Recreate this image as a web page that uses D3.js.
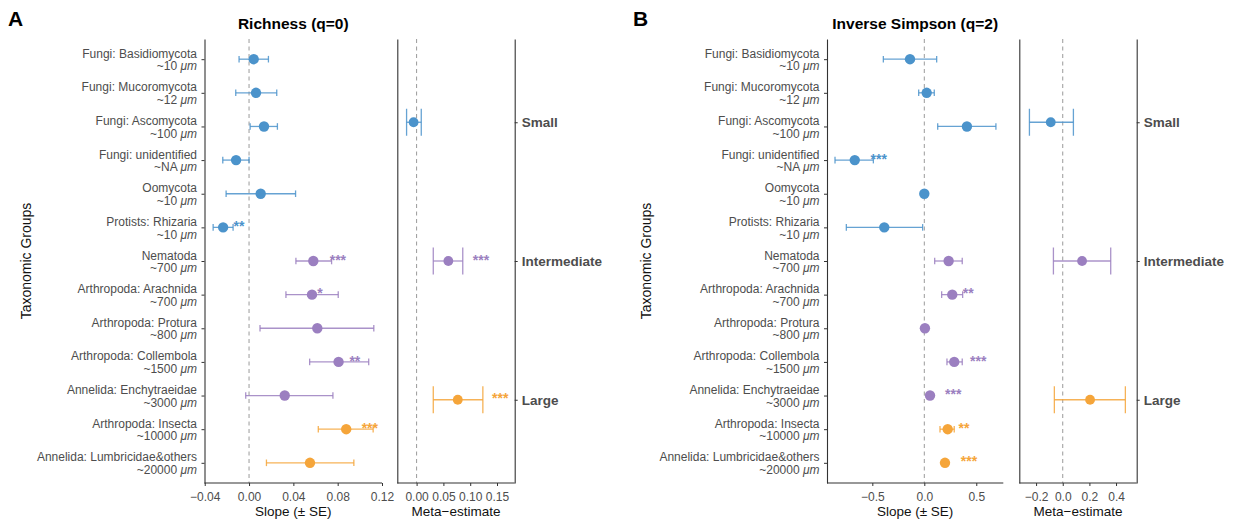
<!DOCTYPE html>
<html>
<head>
<meta charset="utf-8">
<script src="https://cdn.jsdelivr.net/npm/d3@7"></script>
<style>
  body { margin: 0; background: #fff; }
  svg { font-family: 'Liberation Sans', Arial, sans-serif; }
</style>
</head>
<body>
<div id="chart"></div>
<script>
// Data
const groups = [
  'Fungi: Basidiomycota', 'Fungi: Mucoromycota', 'Fungi: Ascomycota', 'Fungi: unidentified',
  'Oomycota', 'Protists: Rhizaria', 'Nematoda', 'Arthropoda: Arachnida', 'Arthropoda: Protura',
  'Arthropoda: Collembola', 'Annelida: Enchytraeidae', 'Arthropoda: Insecta', 'Annelida: Lumbricidae&others'
];
const sizes = ['10', '12', '100', 'NA', '10', '10', '700', '700', '800', '1500', '3000', '10000', '20000'];
const sizeClass = ['Small', 'Small', 'Small', 'Small', 'Small', 'Small',
  'Intermediate', 'Intermediate', 'Intermediate', 'Intermediate', 'Intermediate', 'Large', 'Large'];
const metaCats = ['Small', 'Intermediate', 'Large'];

// Richness (q=0): slope and slope ± SE
const richEst = [0.0042, 0.0063, 0.0135, -0.0117, 0.0105, -0.0234, 0.058, 0.0568, 0.0616, 0.0808, 0.0322, 0.0877, 0.055];
const richLo = [-0.009, -0.012, 0.001, -0.0237, -0.0207, -0.0324, 0.0423, 0.0333, 0.0099, 0.0547, -0.003, 0.0625, 0.0157];
const richHi = [0.0175, 0.025, 0.0256, 0.0, 0.042, -0.0144, 0.0745, 0.0805, 0.1126, 0.108, 0.0757, 0.112, 0.0946];
const richStars = ['', '', '', '', '', '**', '***', '*', '', '**', '', '***', ''];
const richStarX = [0, 0, 0, 0, 0, -0.009, 0.0802, 0.064, 0, 0.0955, 0, 0.109, 0];

const richMetaEst = [-0.0056, 0.0592, 0.0768];
const richMetaLo = [-0.0187, 0.0311, 0.0311];
const richMetaHi = [0.0087, 0.0861, 0.1236];
const richMetaStars = ['', '***', '***'];
const richMetaStarX = [0, 0.12, 0.156];

// Inverse Simpson (q=2)
const simpEst = [-0.1375, 0.023, 0.41, -0.669, 0.0, -0.385, 0.234, 0.269, 0.006, 0.288, 0.055, 0.225, 0.199];
const simpLo = [-0.394, -0.054, 0.129, -0.859, -0.01, -0.75, 0.1, 0.167, 0.0, 0.218, 0.045, 0.151, 0.19];
const simpHi = [0.119, 0.096, 0.689, -0.49, 0.01, -0.016, 0.365, 0.369, 0.012, 0.365, 0.065, 0.288, 0.208];
const simpStars = ['', '', '', '***', '', '', '', '**', '', '***', '***', '**', '***'];
const simpStarX = [0, 0, 0, -0.438, 0, 0, 0, 0.423, 0, 0.519, 0.279, 0.382, 0.43];

const simpMetaEst = [-0.09, 0.145, 0.205];
const simpMetaLo = [-0.25, -0.07, -0.063];
const simpMetaHi = [0.08, 0.36, 0.47];
const simpMetaStars = ['', '', ''];
const simpMetaStarX = [0, 0, 0];

// Tick labels
const richTicks = [-0.04, 0.00, 0.04, 0.08, 0.12];
const richMetaTicks = [0.00, 0.05, 0.10, 0.15];
const simpTicks = [-0.5, 0.0, 0.5];
const simpMetaTicks = [-0.2, 0.0, 0.2, 0.4];

const colors = { Small: '#4b93cb', Intermediate: '#9b7fc0', Large: '#f5a53a' };

// Build rows
const makeRows = (est, lo, hi, stars, starX) => groups.map((g, i) => ({
  group: g, size: sizes[i], cls: sizeClass[i],
  est: est[i], lo: lo[i], hi: hi[i], stars: stars[i], starX: starX[i]
}));
const makeMeta = (est, lo, hi, stars, starX) => metaCats.map((c, i) => ({
  group: c, cls: c, est: est[i], lo: lo[i], hi: hi[i], stars: stars[i], starX: starX[i]
}));

const svg = d3.select('#chart').append('svg')
  .attr('width', 1241).attr('height', 520);

const top_y = 39, bottom_y = 483;

drawPanel({
  letter: 'A', letterX: 8, title: 'Richness (q=0)', yTitleX: 31,
  main: { x0: 204.5, x1: 382, domain: [-0.0402, 0.12], ticks: richTicks, fmt: '.2f', label: 'Slope (± SE)' },
  meta: { x0: 397.3, x1: 514.7, domain: [-0.036, 0.183], ticks: richMetaTicks, fmt: '.2f', label: 'Meta−estimate' },
  rows: makeRows(richEst, richLo, richHi, richStars, richStarX),
  metaRows: makeMeta(richMetaEst, richMetaLo, richMetaHi, richMetaStars, richMetaStarX)
});
drawPanel({
  letter: 'B', letterX: 633, title: 'Inverse Simpson (q=2)', yTitleX: 651,
  main: { x0: 827, x1: 1003.3, domain: [-0.936, 0.76], ticks: simpTicks, fmt: '.1f', label: 'Slope (± SE)' },
  meta: { x0: 1019.3, x1: 1136.7, domain: [-0.326, 0.555], ticks: simpMetaTicks, fmt: '.1f', label: 'Meta−estimate' },
  rows: makeRows(simpEst, simpLo, simpHi, simpStars, simpStarX),
  metaRows: makeMeta(simpMetaEst, simpMetaLo, simpMetaHi, simpMetaStars, simpMetaStarX)
});

function drawPanel(cfg) {
  const g = svg.append('g');

  // panel letter + title
  g.append('text').attr('x', cfg.letterX).attr('y', 26)
    .style('font-size', '21px').style('font-weight', 'bold').text(cfg.letter);
  g.append('text').attr('x', (cfg.main.x0 + cfg.main.x1) / 2).attr('y', 28.5)
    .attr('text-anchor', 'middle')
    .style('font-size', '15.5px').style('font-weight', 'bold').text(cfg.title);

  // y title
  g.append('text')
    .attr('transform', `translate(${cfg.yTitleX},${(top_y + bottom_y) / 2}) rotate(-90)`)
    .attr('text-anchor', 'middle').style('font-size', '14px').style('fill', '#111')
    .text('Taxonomic Groups');

  // scales
  const y = d3.scalePoint().domain(groups).range([top_y, bottom_y]).padding(0.6);
  const yMeta = d3.scalePoint().domain(metaCats).range([top_y, bottom_y]).padding(0.6);
  const x = d3.scaleLinear().domain(cfg.main.domain).range([cfg.main.x0, cfg.main.x1]);
  const xMeta = d3.scaleLinear().domain(cfg.meta.domain).range([cfg.meta.x0, cfg.meta.x1]);

  drawForest(g, cfg.rows, x, y, cfg.main, 3.3, 5.2);
  drawForest(g, cfg.metaRows, xMeta, yMeta, cfg.meta, 13.5, 4.9);

  // y axis of main panel (two-line labels)
  const yAxis = d3.axisLeft(y).tickSizeInner(3).tickSizeOuter(0).tickPadding(4.5);
  const yAxisDraw = g.append('g').attr('transform', `translate(${cfg.main.x0},0)`).call(yAxis);
  styleAxis(yAxisDraw);
  yAxisDraw.selectAll('.tick text').each(function (d, i) {
    const t = d3.select(this).text(null).attr('dy', null).style('font-size', '12px');
    t.append('tspan').attr('x', -7.5).attr('dy', '-0.08em').text(d);
    const s = t.append('tspan').attr('x', -7.5).attr('dy', '1.05em').text(`~${sizes[i]} `);
    s.append('tspan').style('font-style', 'italic').text('μm');
  });
  yAxisDraw.selectAll('.tick text').attr('y', -1);

  // meta panel: left line, right axis with class labels
  const metaLeft = g.append('g').attr('transform', `translate(${cfg.meta.x0},0)`)
    .call(d3.axisLeft(yMeta).tickSize(0).tickFormat(''));
  styleAxis(metaLeft);
  const metaRight = g.append('g').attr('transform', `translate(${cfg.meta.x1},0)`)
    .call(d3.axisRight(yMeta).tickSizeInner(3).tickSizeOuter(0).tickPadding(4));
  styleAxis(metaRight);
  metaRight.selectAll('.tick text')
    .style('font-size', '13.5px').style('font-weight', 'bold');
}

function drawForest(g, rows, x, y, opt, capH, r) {
  // zero reference line
  g.append('line')
    .attr('x1', x(0)).attr('x2', x(0)).attr('y1', top_y).attr('y2', bottom_y)
    .style('stroke', '#9a9a9a').style('stroke-width', 1).style('stroke-dasharray', '4,3.5');

  const bars = g.append('g').selectAll('g').data(rows).enter().append('g')
    .style('stroke', d => colors[d.cls]).style('stroke-width', 1.3).style('stroke-opacity', 0.85);
  bars.append('line')
    .attr('x1', d => x(d.lo)).attr('x2', d => x(d.hi))
    .attr('y1', d => y(d.group)).attr('y2', d => y(d.group));
  bars.append('line')
    .attr('x1', d => x(d.lo)).attr('x2', d => x(d.lo))
    .attr('y1', d => y(d.group) - capH).attr('y2', d => y(d.group) + capH);
  bars.append('line')
    .attr('x1', d => x(d.hi)).attr('x2', d => x(d.hi))
    .attr('y1', d => y(d.group) - capH).attr('y2', d => y(d.group) + capH);

  g.append('g').selectAll('circle').data(rows).enter().append('circle')
    .attr('cx', d => x(d.est)).attr('cy', d => y(d.group)).attr('r', r)
    .style('fill', d => colors[d.cls]);

  // significance stars
  g.append('g').selectAll('text').data(rows.filter(d => d.stars)).enter().append('text')
    .attr('x', d => x(d.starX)).attr('y', d => y(d.group) + 3.6)
    .attr('text-anchor', 'middle')
    .style('font-size', '14px').style('font-weight', 'bold')
    .style('fill', d => colors[d.cls])
    .text(d => d.stars);

  // x axis
  const xAxis = d3.axisBottom(x).tickValues(opt.ticks).tickFormat(d3.format(opt.fmt))
    .tickSizeInner(3).tickSizeOuter(0).tickPadding(6);
  const xAxisDraw = g.append('g').attr('transform', `translate(0,${bottom_y})`).call(xAxis);
  styleAxis(xAxisDraw);
  xAxisDraw.selectAll('.tick text').style('font-size', '12px');
  xAxisDraw.select('.domain').attr('d', `M${opt.x0},0H${opt.x1}`);

  g.append('text').attr('x', (opt.x0 + opt.x1) / 2).attr('y', 516)
    .attr('text-anchor', 'middle').style('font-size', '13.5px').style('fill', '#111')
    .text(opt.label);
}

function styleAxis(axis) {
  axis.selectAll('.domain').style('stroke', '#333').style('stroke-width', 1.1);
  axis.selectAll('.tick line').style('stroke', '#333').style('stroke-width', 1);
  axis.selectAll('.tick text').style('fill', '#4d4d4d').style('font-family', "'Liberation Sans', Arial, sans-serif");
}
</script>
</body>
</html>
